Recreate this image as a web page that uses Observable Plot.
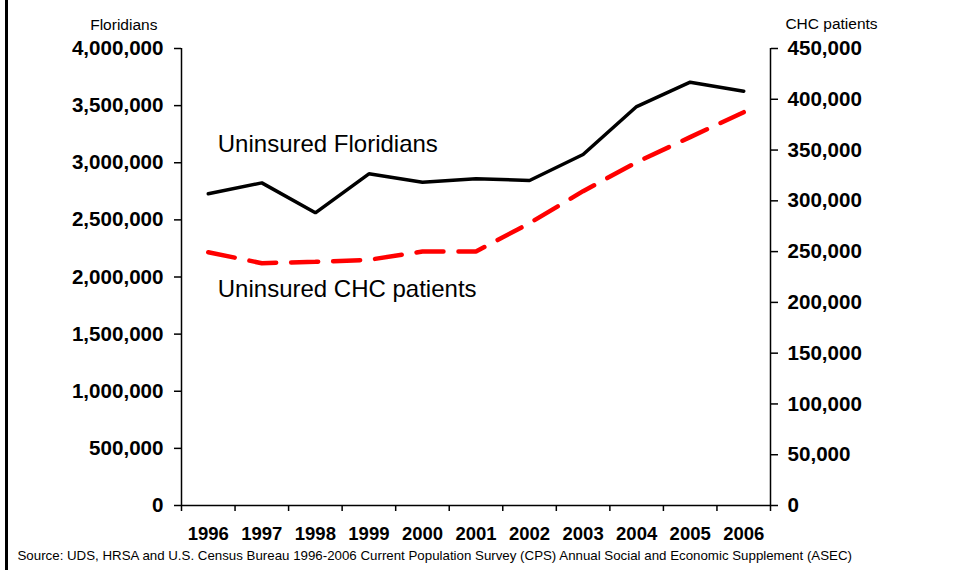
<!DOCTYPE html>
<html>
<head>
<meta charset="utf-8">
<script src="https://cdn.jsdelivr.net/npm/d3@7"></script>
<script src="https://cdn.jsdelivr.net/npm/@observablehq/plot@0.6"></script>
<style>
  html, body { margin: 0; padding: 0; background: #fff; }
  #chart { position: relative; width: 954px; height: 570px; }
  #chart::before { content: ""; position: absolute; left: 5px; top: 0; width: 3px; height: 570px; background: #000; }
  #chart svg { display: block; }
</style>
</head>
<body>
<div id="chart"></div>
<script>
// ---- data ----
const years = [1996, 1997, 1998, 1999, 2000, 2001, 2002, 2003, 2004, 2005, 2006];
const uninsuredFloridians = [2728000, 2824000, 2562000, 2903000, 2830000, 2860000, 2845000, 3072000, 3492000, 3705000, 3626000];
const uninsuredCHC = [249400, 238600, 240000, 241900, 250100, 250100, 278000, 309500, 338000, 362700, 387300];
const leftTicks = [0, 500000, 1000000, 1500000, 2000000, 2500000, 3000000, 3500000, 4000000];
const rightTicks = [0, 50000, 100000, 150000, 200000, 250000, 300000, 350000, 400000, 450000];
const leftTitle = "Floridians";
const rightTitle = "CHC patients";
const labelFloridians = "Uninsured Floridians";
const labelCHC = "Uninsured CHC patients";
const source = "Source: UDS, HRSA and U.S. Census Bureau 1996-2006 Current Population Survey (CPS) Annual Social and Economic Supplement (ASEC)";

// ---- derived ----
const leftMax = leftTicks[leftTicks.length - 1];
const rightMax = rightTicks[rightTicks.length - 1];
const k = leftMax / rightMax; // map right-axis values onto left scale
const data = years.map((year, i) => ({year, fl: uninsuredFloridians[i], chc: uninsuredCHC[i] * k}));
const boundaries = [...years.map(y => y - 0.5), years[years.length - 1] + 0.5];
const xMin = boundaries[0], xMax = boundaries[boundaries.length - 1];
const fmt = d3.format(",");

const font = "'Liberation Sans', Arial, Helvetica, sans-serif";
const axisStroke = {stroke: "#000", strokeOpacity: 1, strokeWidth: 1.5};

const chart = Plot.plot({
  width: 954,
  height: 570,
  marginLeft: 181,
  marginRight: 184,
  marginTop: 48,
  marginBottom: 65,
  style: {fontFamily: font, color: "#000", background: "#fff", overflow: "visible"},
  x: {type: "linear", domain: [xMin, xMax]},
  y: {type: "linear", domain: [0, leftMax]},
  marks: [
    Plot.axisY({ticks: leftTicks, anchor: "left", tickSize: 7, tickPadding: 11, tickFormat: fmt,
      fontSize: 20.6, fontWeight: "bold", label: null, ...axisStroke}),
    Plot.axisY({ticks: rightTicks.map(v => v * k), anchor: "right", tickSize: 7, tickPadding: 10,
      tickFormat: d => fmt(Math.round(d / k)), fontSize: 20.6, fontWeight: "bold", label: null, ...axisStroke}),
    Plot.axisX({ticks: boundaries, anchor: "bottom", tickSize: 6, tickFormat: () => "", label: null, ...axisStroke}),
    Plot.axisX({ticks: years, anchor: "bottom", tickSize: 0, tickPadding: 21, tickFormat: d => String(d),
      fontSize: 18.5, fontWeight: "bold", label: null}),
    Plot.ruleX([xMin, xMax], {x: d => d, y1: 0, y2: leftMax, ...axisStroke}),
    Plot.ruleY([0], {y: d => d, x1: xMin, x2: xMax, ...axisStroke}),
    Plot.line(data, {x: "year", y: "fl", stroke: "#000", strokeWidth: 3.5, strokeLinejoin: "miter"}),
    Plot.line(data, {x: "year", y: "chc", stroke: "#ff0000", strokeWidth: 4.5, strokeDasharray: "27,15", strokeLinejoin: "miter"}),
    Plot.text([data[0]], {x: "year", y: "fl", text: () => labelFloridians, textAnchor: "start",
      dx: 9.5, dy: -49.3, fontSize: 24, fill: "#000"}),
    Plot.text([data[0]], {x: "year", y: "chc", text: () => labelCHC, textAnchor: "start",
      dx: 9.5, dy: 37.3, fontSize: 24, fill: "#000"}),
    Plot.text([leftTitle], {frameAnchor: "top-left", text: d => d, textAnchor: "middle",
      dx: -57.7, dy: -30, fontSize: 15.5, fill: "#000"}),
    Plot.text([rightTitle], {frameAnchor: "top-right", text: d => d, textAnchor: "middle",
      dx: 61, dy: -30.5, fontSize: 15.5, fill: "#000"}),
    Plot.text([source], {frameAnchor: "bottom-left", text: d => d, textAnchor: "start",
      dx: -164, dy: 54, fontSize: 13.3, fill: "#000"})
  ]
});
document.getElementById("chart").appendChild(chart);
</script>
</body>
</html>
